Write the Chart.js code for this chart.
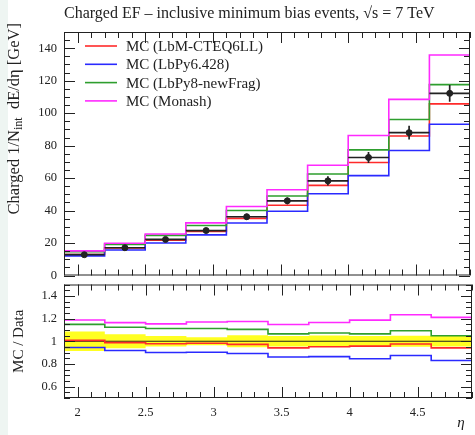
<!DOCTYPE html>
<html>
<head>
<meta charset="utf-8">
<script src="https://cdn.jsdelivr.net/npm/chart.js@4.4.0/dist/chart.umd.min.js"></script>
<style>
  html, body { margin: 0; padding: 0; background: #fff; }
  #wrap { position: relative; width: 475px; height: 435px; overflow: hidden; background: #fff; }
  #strip { position: absolute; left: 0; top: 0; width: 8px; height: 435px; background: #eef5f2; }
  #main { position: absolute; left: 0; top: 0; }
  #ratio { position: absolute; left: 0; top: 270px; }
</style>
</head>
<body>
<div id="wrap">
  <div id="strip"></div>
  <canvas id="main" width="475" height="290"></canvas>
  <canvas id="ratio" width="475" height="165"></canvas>
</div>
<script>
// bin edges in eta and tick labels
const edges = [1.9, 2.2, 2.5, 2.8, 3.1, 3.4, 3.7, 4.0, 4.3, 4.6, 4.9];
const xTicks = [2, 2.5, 3, 3.5, 4, 4.5];
const yTicksMain = [0, 20, 40, 60, 80, 100, 120, 140];
const yTicksRatio = [0.6, 0.8, 1, 1.2, 1.4];

// data (black points)
const dataY = [12.8, 17.1, 22.2, 27.7, 36.2, 46.0, 58.3, 72.7, 88.0, 112.2];
const dataErr = [1.1, 1.05, 1.05, 0.95, 1.9, 2.1, 2.9, 3.4, 4.2, 5.2];

// MC predictions
const mcNames = ['MC (LbM-CTEQ6LL)', 'MC (LbPy6.428)', 'MC (LbPy8-newFrag)', 'MC (Monash)'];
const mcColors = ['#ff2a2a', '#2a2aff', '#2e9e2e', '#ff2aff'];
const mcRed = [12.9, 16.9, 21.7, 27.2, 35.2, 43.3, 55.5, 69.6, 85.9, 105.7];
const mcBlue = [12.1, 15.7, 20.0, 25.0, 32.3, 39.6, 50.4, 61.5, 77.0, 93.2];
const mcGreen = [14.7, 19.2, 24.7, 30.8, 40.0, 49.0, 62.5, 77.4, 96.1, 117.6];
const mcMagenta = [15.2, 19.9, 25.6, 32.4, 42.5, 52.8, 67.9, 86.2, 108.5, 135.8];
const mcValues = [mcRed, mcBlue, mcGreen, mcMagenta];

const FONT = "'Liberation Serif', 'DejaVu Serif', serif";
const INK = '#222';

// histogram as stepped line: one point per edge, last value repeated
function steps(vals) {
  return edges.map((e, i) => ({ x: e, y: vals[Math.min(i, vals.length - 1)] }));
}

// box + inward ticks on all sides (rivet style)
const framePlugin = {
  id: 'frame',
  afterDraw(chart, args, opts) {
    const ctx = chart.ctx, a = chart.chartArea;
    const xs = chart.scales.x, ys = chart.scales.y;
    ctx.save();
    ctx.strokeStyle = INK;
    ctx.lineWidth = 1;
    ctx.strokeRect(a.left + 0.5, a.top + 0.5, a.right - a.left - 1, a.bottom - a.top - 1);
    ctx.beginPath();
    for (let k = 19; k <= 49; k++) {
      const px = Math.round(xs.getPixelForValue(k / 10)) + 0.5;
      const len = k % 5 === 0 ? 11 : 6;
      ctx.moveTo(px, a.top); ctx.lineTo(px, a.top + len);
      ctx.moveTo(px, a.bottom); ctx.lineTo(px, a.bottom - len);
    }
    const n = Math.round((ys.max - ys.min) / opts.minor);
    for (let k = 0; k <= n; k++) {
      const v = ys.min + k * opts.minor;
      const q = v / opts.major;
      const len = Math.abs(q - Math.round(q)) < 1e-6 ? 11 : 6;
      const py = Math.round(ys.getPixelForValue(v)) + 0.5;
      ctx.moveTo(a.left, py); ctx.lineTo(a.left + len, py);
      ctx.moveTo(a.right, py); ctx.lineTo(a.right - len, py);
    }
    ctx.stroke();
    ctx.restore();
  }
};

// error bars of the data: horizontal = bin width, vertical = uncertainty
const errPlugin = {
  id: 'errbars',
  afterDatasetsDraw(chart) {
    const ctx = chart.ctx, xs = chart.scales.x, ys = chart.scales.y;
    ctx.save();
    ctx.strokeStyle = INK;
    ctx.lineWidth = 1.7;
    ctx.beginPath();
    dataY.forEach((v, i) => {
      const x0 = xs.getPixelForValue(edges[i]);
      const x1 = xs.getPixelForValue(edges[i + 1]);
      const xc = xs.getPixelForValue((edges[i] + edges[i + 1]) / 2);
      const y = ys.getPixelForValue(v);
      ctx.moveTo(x0, y); ctx.lineTo(x1, y);
      ctx.moveTo(xc, ys.getPixelForValue(v - dataErr[i]));
      ctx.lineTo(xc, ys.getPixelForValue(v + dataErr[i]));
    });
    ctx.stroke();
    ctx.restore();
  }
};

// legend inside the main panel
const legendPlugin = {
  id: 'insideLegend',
  afterDraw(chart) {
    const ctx = chart.ctx;
    ctx.save();
    ctx.font = '15px ' + FONT;
    ctx.textBaseline = 'middle';
    mcNames.forEach((name, i) => {
      const y = 46 + i * 18.3;
      ctx.strokeStyle = mcColors[i];
      ctx.lineWidth = 1.6;
      ctx.beginPath(); ctx.moveTo(85, y); ctx.lineTo(117, y); ctx.stroke();
      ctx.fillStyle = INK;
      ctx.fillText(name, 126, y + 1);
    });
    ctx.restore();
  }
};

// axis titles
const mainLabelPlugin = {
  id: 'mainLabel',
  afterDraw(chart) {
    const ctx = chart.ctx;
    const big = '16.5px ' + FONT, small = '12px ' + FONT;
    const parts = [['Charged 1/N', big, 0], ['int', small, 3], ['  dE/dη [GeV]', big, 0]];
    ctx.save();
    ctx.translate(19, 23);
    ctx.rotate(-Math.PI / 2);
    ctx.fillStyle = INK;
    ctx.textAlign = 'left';
    ctx.textBaseline = 'alphabetic';
    let total = 0;
    parts.forEach(p => { ctx.font = p[1]; total += ctx.measureText(p[0]).width; });
    let cx = -total;
    parts.forEach(p => {
      ctx.font = p[1];
      ctx.fillText(p[0], cx, p[2]);
      cx += ctx.measureText(p[0]).width;
    });
    ctx.restore();
  }
};

const ratioLabelPlugin = {
  id: 'ratioLabel',
  afterDraw(chart) {
    const ctx = chart.ctx, a = chart.chartArea;
    ctx.save();
    ctx.fillStyle = INK;
    ctx.font = '15px ' + FONT;
    ctx.textAlign = 'center';
    ctx.translate(23, (a.top + a.bottom) / 2);
    ctx.rotate(-Math.PI / 2);
    ctx.fillText('MC / Data', 0, 0);
    ctx.restore();
    ctx.save();
    ctx.fillStyle = INK;
    ctx.font = 'italic 15px ' + FONT;
    ctx.textAlign = 'center';
    ctx.fillText('η', 461, 157);
    ctx.restore();
  }
};

function yAxis(min, max, list) {
  return {
    type: 'linear', min: min, max: max,
    afterBuildTicks: s => { s.ticks = list.map(v => ({ value: v })); },
    afterFit: s => { s.width = 64; },
    grid: { display: false, drawTicks: false },
    border: { display: false },
    ticks: { padding: 7, color: INK, font: { family: FONT, size: 12.5 }, callback: v => String(v) }
  };
}

// ---------- main panel ----------
const mainSets = mcValues.map((vals, i) => ({
  label: mcNames[i],
  data: steps(vals),
  borderColor: mcColors[i],
  borderWidth: 1.6,
  stepped: true,
  pointRadius: 0,
  fill: false,
  order: 4 - i
}));
mainSets.push({
  type: 'scatter',
  label: 'Data',
  data: dataY.map((v, i) => ({ x: (edges[i] + edges[i + 1]) / 2, y: v })),
  pointRadius: 3,
  pointBackgroundColor: INK,
  pointBorderColor: INK,
  showLine: false,
  order: 0
});

new Chart(document.getElementById('main'), {
  type: 'line',
  data: { datasets: mainSets },
  options: {
    responsive: false,
    animation: false,
    events: [],
    layout: { padding: { left: 0, right: 3, top: 0, bottom: 13 } },
    plugins: {
      legend: { display: false },
      tooltip: { enabled: false },
      title: {
        display: true,
        text: 'Charged EF – inclusive minimum bias events, √s = 7 TeV',
        align: 'start',
        fullSize: false,
        color: INK,
        font: { family: FONT, size: 16, weight: 'normal' },
        padding: { top: 4, bottom: 8.8 }
      },
      frame: { minor: 5, major: 20 }
    },
    scales: {
      x: { type: 'linear', min: 1.9, max: 4.9, display: false },
      y: yAxis(0, 150, yTicksMain)
    }
  },
  plugins: [framePlugin, errPlugin, legendPlugin, mainLabelPlugin]
});

// ---------- ratio panel ----------
const ratioSets = [
  {
    label: 'band hi',
    data: steps(dataY.map((v, i) => 1 + dataErr[i] / v)),
    borderColor: 'rgba(0,0,0,0)',
    stepped: true, pointRadius: 0, fill: false, order: 21
  },
  {
    label: 'band lo',
    data: steps(dataY.map((v, i) => 1 - dataErr[i] / v)),
    borderColor: 'rgba(0,0,0,0)',
    backgroundColor: '#ffff22',
    stepped: true, pointRadius: 0, fill: '-1', order: 20
  },
  {
    label: 'data',
    data: steps(dataY.map(v => v / v)),
    borderColor: INK, borderWidth: 1.2,
    stepped: true, pointRadius: 0, fill: false, order: 10
  }
];
mcValues.forEach((vals, i) => {
  ratioSets.push({
    label: mcNames[i],
    data: steps(vals.map((m, j) => m / dataY[j])),
    borderColor: mcColors[i],
    borderWidth: 1.6,
    stepped: true, pointRadius: 0, fill: false, order: 4 - i
  });
});

new Chart(document.getElementById('ratio'), {
  type: 'line',
  data: { datasets: ratioSets },
  options: {
    responsive: false,
    animation: false,
    events: [],
    layout: { padding: { left: 0, right: 3, top: 7, bottom: 0 } },
    plugins: {
      legend: { display: false },
      tooltip: { enabled: false },
      frame: { minor: 0.05, major: 0.2 }
    },
    scales: {
      x: {
        type: 'linear', min: 1.9, max: 4.9,
        afterBuildTicks: s => { s.ticks = xTicks.map(v => ({ value: v })); },
        afterFit: s => { s.height = 37; },
        grid: { display: false, drawTicks: false },
        border: { display: false },
        ticks: { padding: 7, maxRotation: 0, autoSkip: false, color: INK, font: { family: FONT, size: 12.5 }, callback: v => String(v) }
      },
      y: yAxis(0.5, 1.5, yTicksRatio)
    }
  },
  plugins: [framePlugin, ratioLabelPlugin]
});
</script>
</body>
</html>
